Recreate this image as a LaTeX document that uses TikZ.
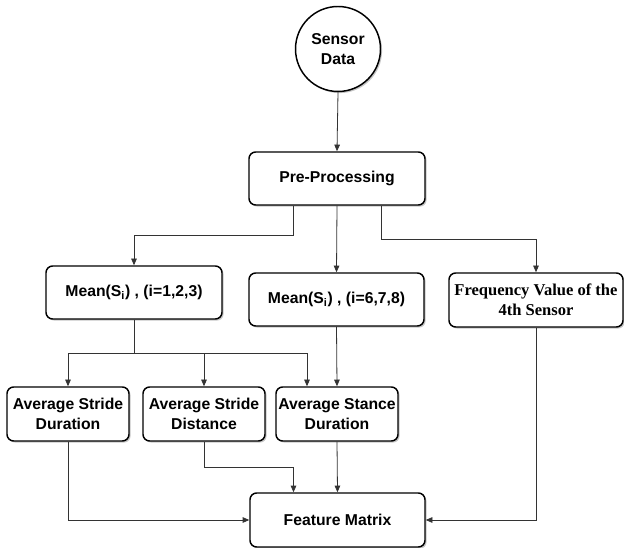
\documentclass[tikz,border=0pt]{standalone}
\usepackage{fontspec}
\setmainfont{Liberation Sans}
\newfontfamily\timesbf{Liberation Serif}
\usetikzlibrary{arrows.meta,shadows}

\tikzset{
  box/.style={draw=black, line width=1.1pt, rounded corners=5pt, fill=white,
    align=center, inner sep=0pt,
    font=\fontsize{11.8}{14.5}\selectfont\bfseries,
    drop shadow={shadow xshift=1.2pt, shadow yshift=-1.2pt, fill=black!45, opacity=.5}},
  link/.style={draw=black!80, line width=0.6pt, -{Triangle[length=5pt,width=4.2pt]}},
}

\begin{document}
\begin{tikzpicture}[x=0.75pt, y=-0.75pt]
    % Canvas (pixel units, y downwards)
    \useasboundingbox (0,0) rectangle (624,548);

    % Source and pre-processing
    \node[box, circle, rounded corners=0pt, minimum size=63.75pt] (sensor) at (338,49) {Sensor\\Data};
    \node[box, minimum width=132pt, minimum height=39.75pt] (pre) at (337,178.5) {Pre-Processing};

    % Second row
    \node[box, minimum width=132pt, minimum height=39.75pt] (mean1) at (134,292.5) {Mean(S\textsubscript{i}) , (i=1,2,3)};
    \node[box, minimum width=131.25pt, minimum height=39.75pt] (mean2) at (336.5,299.5) {Mean(S\textsubscript{i}) , (i=6,7,8)};
    \node[box, minimum width=130.5pt, minimum height=40.5pt,
          font=\fontsize{12.4}{15}\selectfont\timesbf\bfseries] (freq) at (536,300) {Frequency Value of the\\4th Sensor};

    % Third row
    \node[box, minimum width=91.5pt, minimum height=40.5pt] (dur) at (68,414) {Average Stride\\Duration};
    \node[box, minimum width=91.5pt, minimum height=40.5pt] (dist) at (204,414) {Average Stride\\Distance};
    \node[box, minimum width=91.5pt, minimum height=40.5pt] (stance) at (337,414) {Average Stance\\Duration};

    % Result
    \node[box, minimum width=131.25pt, minimum height=40.5pt] (feat) at (337.5,520) {Feature Matrix};

    % Connectors
    \draw[link] (sensor.south) -- (pre.north);
    \draw[link] ([xshift=-33pt]pre.south) -- ++(0,30) -| (mean1.north);
    \draw[link] (pre.south) -- (mean2.north);
    \draw[link] ([xshift=33pt]pre.south) -- ++(0,34) -| (freq.north);

    \path (mean1.south) ++(0,34) coordinate (split);
    \draw[link, -] (mean1.south) -- (split);
    \draw[link] (split) -| (dur.north);
    \draw[link] (split) -| (dist.north);
    \draw[link] (split) -| ([xshift=-22.5pt]stance.north);
    \draw[link] (mean2.south) -- (stance.north);

    \draw[link] (dur.south) |- (feat.west);
    \draw[link] (dist.south) -- ++(0,26) -| ([xshift=-33pt]feat.north);
    \draw[link] (stance.south) -- (feat.north);
    \draw[link] (freq.south) |- (feat.east);
\end{tikzpicture}
\end{document}
